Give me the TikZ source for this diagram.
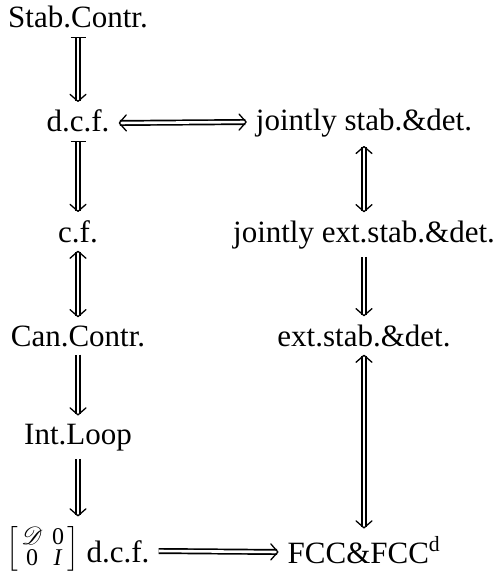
\RequirePackage{fix-cm}
\documentclass[tikz,border=0pt]{standalone}
\usepackage{amsmath}
\usepackage{mathrsfs}
\usepackage{fontspec}
\setmainfont{Liberation Serif}
\usetikzlibrary{arrows.meta}
\newcommand{\dmat}{\raisebox{5pt}{$\left[\vcenter{\hbox{\fontsize{24}{22}\selectfont\renewcommand{\arraystretch}{0.9}\begin{tabular}{@{\hspace{3pt}}c@{\hspace{9pt}}c@{\hspace{3pt}}}$\mathscr{D}$ & 0\\ 0 & \textit{I}\end{tabular}}}\right]$}}
\tikzset{
  lbl/.style={anchor=base, inner xsep=9pt, inner ysep=8pt, font=\fontsize{31}{37}\selectfont},
  imp/.style={double, double distance=2.6pt, line width=1.7pt},
  toarr/.style={imp, -{Straight Barb[length=7pt, width=16pt, line width=1.3pt, round]}},
  bararr/.style={imp, {Bar[width=15pt,line width=1.6pt]}-{Straight Barb[length=7pt, width=16pt, line width=1.3pt, round]}},
  bothway/.style={imp, {Straight Barb[length=7pt, width=16pt, line width=1.3pt, round]}-{Straight Barb[length=7pt, width=16pt, line width=1.3pt, round]}}
}
\begin{document}
\begin{tikzpicture}[x=1pt,y=-1pt]
\useasboundingbox (0,0) rectangle (497,577);
% left column
\node[lbl] (stab) at (78,28) {Stab.Contr.};
\node[lbl] (dcf) at (78,132) {d.c.f.};
\node[lbl] (cf) at (78,242) {c.f.};
\node[lbl] (can) at (78,346) {Can.Contr.};
\node[lbl] (int) at (78,444) {Int.Loop};
\node[lbl] (mat) at (78,562) {\dmat\ d.c.f.};
% right column
\node[lbl] (jsd) at (364,131) {jointly stab.\&det.};
\node[lbl] (jesd) at (364,242) {jointly ext.stab.\&det.};
\node[lbl] (esd) at (364,346) {ext.stab.\&det.};
\node[lbl] (fcc) at (364,563) {FCC\&FCC\textsuperscript{d}};
% connectors
\draw[bararr] (stab.south) -- (dcf.north);
\draw[bararr] (dcf.south) -- (cf.north);
\draw[bothway] (cf.south) -- (can.north);
\draw[toarr] (can.south) -- (int.north);
\draw[toarr] (int.south) -- ([yshift=2pt]mat.north);
\draw[bothway] ([yshift=9pt]dcf.base east) -- ([yshift=9pt]jsd.base west);
\draw[bothway] (jsd.south) -- (jesd.north);
\draw[toarr] (jesd.south) -- (esd.north);
\draw[bothway] (esd.south) -- (fcc.north);
\draw[toarr] ([yshift=11pt]mat.base east) -- ([yshift=11pt]fcc.base west);
\end{tikzpicture}
\end{document}
